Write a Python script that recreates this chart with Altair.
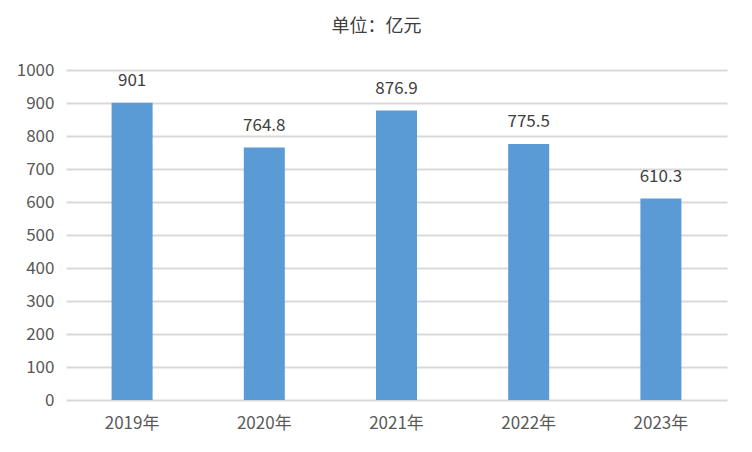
import altair as alt
import pandas as pd

years = ["2019年", "2020年", "2021年", "2022年", "2023年"]
values = [901, 764.8, 876.9, 775.5, 610.3]
labels = ["901", "764.8", "876.9", "775.5", "610.3"]
y_ticks = [0, 100, 200, 300, 400, 500, 600, 700, 800, 900, 1000]

df = pd.DataFrame({"year": years, "value": values, "label": labels})

FONT = "Noto Sans CJK SC"

y_enc = alt.Y("value:Q", title=None,
              scale=alt.Scale(domain=[0, 1000], nice=False),
              axis=alt.Axis(values=y_ticks, tickCount=20, format="d", labelOverlap=False,
                            domain=False, ticks=False, labelPadding=12,
                            labelFontSize=17, labelColor="#595959", labelFont=FONT,
                            gridColor="#D9D9D9", gridWidth=2))

base = alt.Chart(df).encode(
    x=alt.X("year:N", sort=years, title=None,
            axis=alt.Axis(labelAngle=0, domain=False, ticks=False, labelPadding=15,
                          labelFontSize=17, labelColor="#595959", labelFont=FONT)),
    y=y_enc,
)

bars = base.mark_bar(size=41, color="#5B9BD5")

text = base.mark_text(dy=-17, baseline="alphabetic", fontSize=17, color="#404040", font=FONT).encode(
    text="label:N",
)

chart = (bars + text).properties(
    width=661,
    height=330,
    padding={"left": 58, "top": 62, "right": 17, "bottom": 44},
    autosize=alt.AutoSizeParams(type="none"),
    title=alt.TitleParams("单位：亿元", anchor="middle", fontSize=18, font=FONT,
                          color="#404040", fontWeight="normal", dx=-20, offset=25),
).configure_view(stroke=None)

chart.save("out.html", embed_options={"renderer": "svg", "actions": False})
